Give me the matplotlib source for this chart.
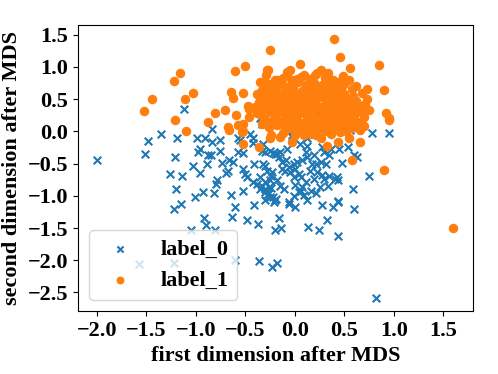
import numpy as np
import matplotlib
matplotlib.use("Agg")
import matplotlib.pyplot as plt

# points (x, y)
label_0_pts = [
    (-2.00, -0.44), (-1.35, -0.04), (-1.48, -0.15), (-1.51, -0.35), (-1.19, -0.11),
    (-1.21, -0.39), (-1.12, 0.34), (-1.26, -0.66), (-1.14, -0.70), (-1.20, -0.89),
    (-1.22, -1.20), (-1.15, -1.13), (-1.01, -1.02), (-0.93, -0.94), (-0.82, -0.95),
    (-0.65, -0.98), (-0.61, -1.17), (-0.92, -1.34), (-0.90, -1.46), (-0.64, -1.33),
    (-0.48, -1.38), (-0.41, -1.15), (-0.52, -0.92), (-1.03, -0.54), (-0.96, -0.65),
    (-0.98, -0.32), (-0.96, -0.27), (-0.99, -0.11), (-0.91, -0.10), (-0.88, -0.36),
    (-0.85, -0.36), (-0.89, -0.50), (-0.84, -0.17), (-0.76, -0.13), (-0.76, -0.31),
    (-0.84, 0.03), (-0.74, -0.49), (-0.68, -0.61), (-0.70, -0.65), (-0.67, -0.45),
    (-0.63, -0.48), (-0.79, -0.76), (-0.80, -0.81), (-0.58, -0.32), (-0.52, -0.33),
    (-0.58, -0.10), (-0.56, -0.14), (-0.45, -0.04), (-0.42, -0.18), (-0.32, -0.19),
    (-0.33, -0.30), (-0.52, -0.58), (-0.50, -0.66), (-0.48, -0.71), (-0.41, -0.50),
    (-0.32, -0.50), (-0.30, -0.53), (-0.42, -0.79), (-0.38, -0.81), (-0.33, -0.85),
    (-0.30, -0.90), (-0.26, -0.95), (-0.24, -0.88), (-0.28, -0.99), (-0.22, -1.02),
    (-0.19, -1.05), (-0.30, -1.06), (-0.20, -1.07), (-0.22, -0.33), (-0.18, -0.35),
    (-0.15, -0.32), (-0.25, -0.76), (-0.24, -0.69), (-0.42, -0.10), (-0.21, -1.10),
    (-0.37, -1.44), (-0.16, -1.34), (-0.20, -1.53), (-1.05, -1.53), (-0.81, -1.53),
    (-1.58, -2.06), (-1.22, -2.05), (-0.61, -2.00), (-0.36, -2.01), (-0.23, -2.10),
    (-0.18, -2.04), (-0.06, -1.12), (0.00, -1.17), (0.12, -1.07), (0.27, -1.15),
    (0.38, -1.17), (0.43, -1.10), (0.60, -1.20), (-0.14, -1.50), (0.13, -1.49),
    (0.24, -1.53), (0.32, -1.38), (0.43, -1.62), (0.82, -2.59), (0.78, -0.02),
    (0.95, -0.02), (0.56, 0.02), (0.60, -0.36), (0.63, -0.40), (0.48, -0.49),
    (0.45, -0.27), (0.54, -0.24), (0.75, -0.69), (0.59, -0.89), (0.42, -0.71),
    (0.40, -0.74), (0.43, -0.75), (0.43, -1.08), (0.09, -0.99), (0.06, -0.93),
    (0.22, -0.63), (0.27, -0.68), (0.29, -0.74), (0.34, -0.70), (0.26, -0.48),
    (0.31, -0.50), (0.29, -0.32), (0.34, -0.36), (0.36, -0.27), (0.27, -0.24),
    (0.21, -0.50), (0.12, -0.22), (0.11, -0.32), (0.12, -0.40), (0.07, -0.45),
    (0.02, -0.48), (-0.01, -0.50), (0.00, -0.58), (0.04, -0.66), (0.06, -0.71),
    (-0.01, -0.71), (-0.05, -0.63), (-0.06, -0.56), (-0.10, -0.61), (-0.13, -0.58),
    (-0.13, -0.48), (-0.16, -0.40), (-0.20, -0.35), (-0.25, -0.30), (-0.30, -0.32),
    (-0.28, -0.61), (-0.23, -0.63), (-0.35, -0.71), (-0.30, -0.79), (-0.26, -0.87),
    (-0.35, -0.89), (-0.30, -0.94), (-0.25, -1.02), (-0.06, -1.10), (-0.01, -1.00),
    (0.04, -0.94), (0.07, -0.87), (0.11, -0.79), (-0.15, -0.84), (-0.11, -0.89),
    (0.17, -0.50), (0.19, -0.74), (0.16, -0.92), (0.25, -0.87), (0.33, -0.84),
    (0.44, 0.17), (-0.03, -0.06), (-0.35, 0.20), (0.44, 0.46), (0.24, 0.28),
    (-0.03, -0.09), (0.12, -0.11), (-0.33, 0.12), (0.10, 0.20), (-0.10, 0.15),
    (-0.08, -0.27), (0.05, -0.20), (0.19, -0.36), (-0.18, -0.75), (0.00, -0.83),
    (0.21, -0.96), (-0.09, -0.45), (0.15, -0.62),
]

label_1_pts = [
    # scattered outliers
    (-0.25, 1.27), (-1.16, 0.90), (-1.22, 0.78), (-0.61, 0.93), (-0.50, 1.01),
    (-0.27, 0.95), (-1.03, 0.60), (-1.44, 0.50), (-1.11, 0.50), (-1.52, 0.32),
    (-1.21, 0.18), (-1.10, 0.00), (-0.65, 0.61), (-0.63, 0.52), (-0.52, 0.59),
    (-0.71, 0.33), (-0.81, 0.28), (-0.88, 0.14), (-0.68, 0.07), (-0.67, 0.02),
    (-0.58, 0.10), (-0.52, 0.11), (-0.52, 0.00), (-0.60, 0.25), (-0.47, 0.39),
    (-0.46, 0.35), (-0.46, 0.22), (-0.33, 0.12), (-0.26, 0.07), (-0.29, 0.87),
    (-0.30, 0.77), (-0.32, 0.75), (-0.20, 0.80), (-0.53, -0.01), (-0.52, -0.19),
    (-0.36, -0.24), (-0.24, -0.06), (-0.25, -0.11), (-0.18, 0.14), (0.95, 0.17),
    (0.66, -0.17), (0.55, -0.10), (0.58, -0.45), (0.90, -0.60), (-0.03, -0.17),
    (0.26, -0.11), (0.32, -0.22), (0.43, -0.17), (0.70, 0.09), (0.66, 0.02),
    (0.46, -0.01), (-0.15, -0.09), (0.09, -0.06), (0.16, -0.04), (0.04, -0.01),
    (0.39, 1.44), (0.46, 1.15), (0.56, 0.99), (0.85, 1.03), (0.05, 1.04),
    (-0.08, 0.92), (-0.05, 0.95), (-0.28, 0.95), (0.26, 0.95), (0.22, 0.91),
    (0.49, 0.86), (0.90, 0.64), (0.73, 0.65), (0.92, 0.29), (0.95, 0.20),
    (0.09, 0.87), (0.02, 0.82), (-0.18, 0.79), (-0.21, 0.74), (0.43, 0.77),
    (0.41, 0.69), (0.58, 0.66), (0.68, 0.59), (0.73, 0.51), (0.75, 0.33),
    (0.70, 0.22), (0.66, 0.12), (-0.35, 0.77), (-0.33, 0.64), (-0.32, 0.48),
    (-0.35, 0.33), (-0.30, 0.17), (-0.26, 0.07), (-0.33, 0.55), (-0.36, 0.45),
    (-0.31, 0.40), (-0.28, 0.60), (-0.27, 0.30), (-0.22, 0.50), (-0.38, 0.28),
    (-0.34, 0.25), (1.60, -1.50),
    # dense core
    (-0.12, 0.83), (-0.03, 0.80), (0.06, 0.84), (0.15, 0.81), (0.30, 0.83), (0.38, 0.80),
    (-0.25, 0.73), (-0.14, 0.75), (-0.06, 0.71), (0.03, 0.76), (0.11, 0.72), (0.19, 0.75),
    (0.27, 0.72), (0.35, 0.76), (0.50, 0.73),
    (-0.27, 0.66), (-0.19, 0.68), (-0.10, 0.64), (-0.02, 0.67), (0.07, 0.63), (0.14, 0.68),
    (0.22, 0.65), (0.31, 0.67), (0.38, 0.63), (0.47, 0.66),
    (-0.29, 0.57), (-0.21, 0.59), (-0.13, 0.56), (-0.05, 0.60), (0.03, 0.57), (0.10, 0.59),
    (0.18, 0.55), (0.26, 0.58), (0.33, 0.60), (0.41, 0.56), (0.50, 0.58), (0.59, 0.55),
    (-0.27, 0.51), (-0.18, 0.48), (-0.10, 0.52), (-0.02, 0.49), (0.06, 0.51), (0.13, 0.47),
    (0.21, 0.50), (0.29, 0.52), (0.37, 0.48), (0.45, 0.51), (0.53, 0.49), (0.62, 0.47),
    (-0.25, 0.41), (-0.16, 0.43), (-0.08, 0.40), (0.00, 0.44), (0.08, 0.41), (0.15, 0.42),
    (0.23, 0.39), (0.31, 0.43), (0.39, 0.41), (0.47, 0.40), (0.55, 0.43), (0.64, 0.41),
    (-0.22, 0.34), (-0.14, 0.32), (-0.05, 0.36), (0.03, 0.33), (0.10, 0.35), (0.18, 0.31),
    (0.26, 0.34), (0.34, 0.36), (0.42, 0.32), (0.50, 0.35), (0.58, 0.33), (0.67, 0.30),
    (-0.20, 0.25), (-0.11, 0.27), (-0.03, 0.24), (0.05, 0.28), (0.12, 0.25), (0.20, 0.23),
    (0.28, 0.27), (0.36, 0.25), (0.44, 0.28), (0.52, 0.24), (0.60, 0.26),
    (-0.22, 0.18), (-0.13, 0.16), (-0.05, 0.19), (0.02, 0.17), (0.10, 0.14), (0.17, 0.19),
    (0.25, 0.16), (0.33, 0.18), (0.41, 0.15), (0.49, 0.19), (0.57, 0.17), (0.64, 0.15),
    (-0.18, 0.10), (-0.09, 0.08), (-0.01, 0.11), (0.07, 0.09), (0.15, 0.07), (0.23, 0.11),
    (0.31, 0.08), (0.39, 0.10), (0.47, 0.07), (0.55, 0.10),
    (-0.10, 0.02), (-0.02, 0.03), (0.06, 0.00), (0.14, 0.02), (0.22, 0.04), (0.30, 0.01),
    (0.38, 0.03), (0.52, 0.01), (0.00, -0.05), (0.21, -0.06), (0.36, -0.04),
    (-0.08, 0.88), (0.20, 0.87), (0.33, 0.90), (0.55, 0.80), (0.62, 0.71),
    (-0.38, 0.58), (-0.40, 0.38), (0.71, 0.42), (0.58, 0.05), (-0.12, -0.03),
]

xticks = [-2.0, -1.5, -1.0, -0.5, 0.0, 0.5, 1.0, 1.5]
yticks = [-2.5, -2.0, -1.5, -1.0, -0.5, 0.0, 0.5, 1.0, 1.5]

plt.rcParams["font.family"] = ["Liberation Serif", "DejaVu Serif"]
plt.rcParams["font.weight"] = "bold"
plt.rcParams["font.size"] = 16

pts0 = np.array(label_0_pts)
pts1 = np.array(label_1_pts)

fig = plt.figure(figsize=(4.98, 3.74), dpi=100)
ax = fig.add_axes([0.157, 0.168, 0.793, 0.765])
ax.scatter(pts0[:, 0], pts0[:, 1], marker="x", s=30, color="tab:blue", label="label_0")
ax.scatter(pts1[:, 0], pts1[:, 1], marker="o", s=34, color="tab:orange", label="label_1")

ax.set_xlim(-2.19, 1.80)
ax.set_ylim(-2.79, 1.65)
ax.set_xticks(xticks)
ax.set_yticks(yticks)
ax.set_xlabel("first dimension after MDS", fontweight="bold")
ax.set_ylabel("second dimension after MDS", fontweight="bold")
ax.legend(loc="lower left", markerscale=0.8)

fig.savefig("out.png", dpi=100)
